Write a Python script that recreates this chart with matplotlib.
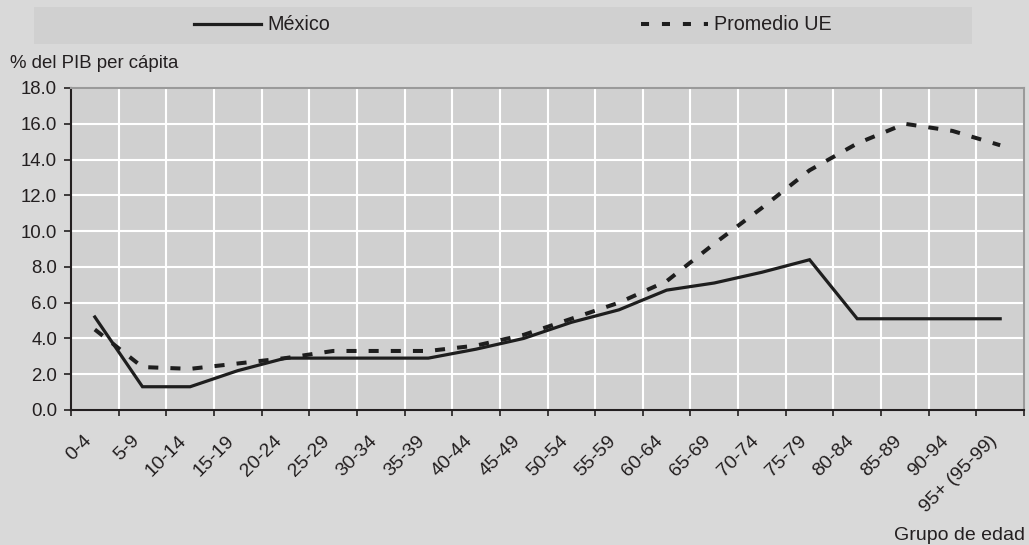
import numpy as np
import matplotlib
matplotlib.use('Agg')
from matplotlib import pyplot as plt
from matplotlib.patches import Rectangle

# age groups and values (% del PIB per cápita)
grupos = ['0-4', '5-9', '10-14', '15-19', '20-24', '25-29', '30-34', '35-39',
          '40-44', '45-49', '50-54', '55-59', '60-64', '65-69', '70-74',
          '75-79', '80-84', '85-89', '90-94', '95+ (95-99)']
mexico = [5.2, 1.3, 1.3, 2.2, 2.9, 2.9, 2.9, 2.9, 3.4, 4.0,
          4.9, 5.6, 6.7, 7.1, 7.7, 8.4, 5.1, 5.1, 5.1, 5.1]
promedio_ue = [4.5, 2.4, 2.3, 2.6, 2.9, 3.3, 3.3, 3.3, 3.6, 4.2,
               5.1, 6.0, 7.2, 9.3, 11.3, 13.4, 14.9, 16.0, 15.6, 14.8]
y_ticks = [0, 2, 4, 6, 8, 10, 12, 14, 16, 18]

plt.rcParams['font.family'] = ['Liberation Sans', 'DejaVu Sans']
txt = '#231f20'
fs = 13.4

fig = plt.figure(figsize=(10.29, 5.45), dpi=100, facecolor='#d9d9d9')
ax = fig.add_axes([71 / 1029, 1 - 410 / 545, 953 / 1029, 322 / 545])
ax.set_facecolor('#d0d0d0')

x = np.arange(len(grupos)) + 0.5
ax.plot(x, mexico, color='#1e1e1e', lw=2.3, solid_joinstyle='miter', label='México')
ax.plot(x, promedio_ue, color='#1e1e1e', lw=2.9, linestyle=(0, (2.5, 3.0)),
        dash_capstyle='butt', label='Promedio UE')

ax.set_xlim(0, len(grupos))
ax.set_ylim(0, 18)

# boundaries as major ticks (grid), labels on shifted minor ticks
ax.set_xticks(np.arange(len(grupos) + 1))
ax.set_xticklabels([])
ax.set_xticks(x - 0.25, grupos, minor=True)
ax.tick_params(axis='x', which='major', length=4, width=1.2, color=txt, direction='out')
ax.tick_params(axis='x', which='minor', length=0, pad=16, labelsize=14, labelcolor=txt)
for lab in ax.get_xticklabels(minor=True):
    lab.set_rotation(45)
    lab.set_ha('right')
    lab.set_va('top')
    lab.set_rotation_mode('anchor')

ax.set_yticks(y_ticks, [f'{v:.1f}' for v in y_ticks])
ax.tick_params(axis='y', length=5, width=1.2, color=txt, pad=5, labelsize=fs, labelcolor=txt)

ax.grid(True, which='major', color='white', lw=1.5)
ax.set_axisbelow(True)

for s in ['left', 'bottom']:
    ax.spines[s].set_color(txt)
    ax.spines[s].set_linewidth(1.5)
for s in ['top', 'right']:
    ax.spines[s].set_color('#9a9a9a')
    ax.spines[s].set_linewidth(1.5)

fig.text(10 / 1029, 1 - 64 / 545, '% del PIB per cápita', fontsize=fs, color=txt,
         ha='left', va='center')
fig.text(1025 / 1029, 1 - 535 / 545, 'Grupo de edad', fontsize=14, color=txt,
         ha='right', va='center')

# legend band
fig.patches.append(Rectangle((34 / 1029, 1 - 44 / 545), 938 / 1029, 37 / 545,
                             transform=fig.transFigure, facecolor='#d0d0d0',
                             edgecolor='none', zorder=0))
leg = fig.legend(loc='center', bbox_to_anchor=(513 / 1029, 1 - 25 / 545), ncol=2,
                 frameon=False, fontsize=14.2, handlelength=3.4, handletextpad=0.3,
                 columnspacing=15.8, borderpad=0)
leg.get_lines()[1].set_linestyle((0, (2.0, 3.2)))
for t in leg.get_texts():
    t.set_color(txt)

fig.savefig('out.png', dpi=100, facecolor=fig.get_facecolor())
